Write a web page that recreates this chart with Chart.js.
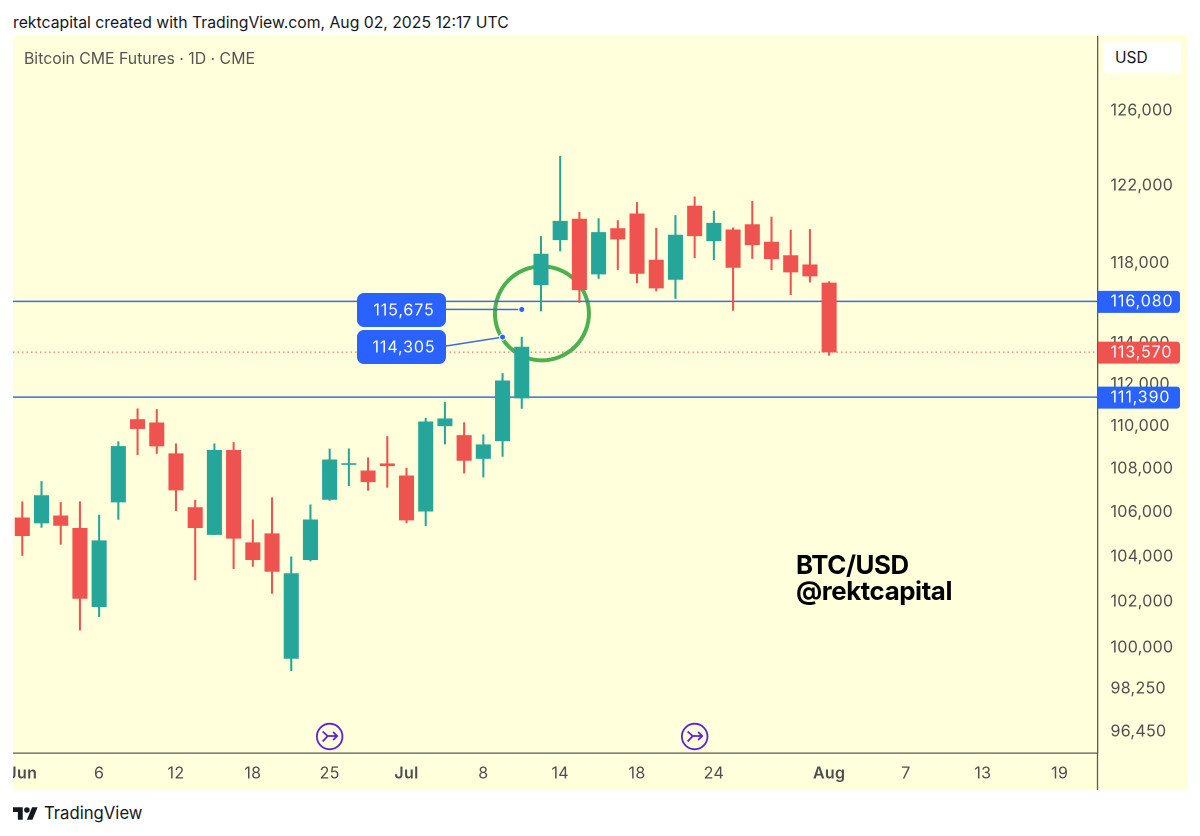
<!DOCTYPE html>
<html lang="en">
<head>
    <meta charset="UTF-8">
    <title>BTC/USD - Bitcoin CME Futures</title>
    <style>
        body {
            margin: 0;
            background: #fff;
            font-family: Inter, "Noto Sans", sans-serif;
            overflow: hidden;
        }
        #header { position: absolute; left: 13px; top: 14px; font-size: 15.75px; line-height: 18px; color: #131722; white-space: nowrap; }
        #panel { position: absolute; left: 13px; top: 36px; width: 1174px; height: 754px; background: #ffffdc; }
        #chart { position: absolute; left: 0; top: 0; width: 1174px; height: 754px; }
        #legend { position: absolute; left: 11px; top: 14px; font-size: 15.8px; line-height: 18px; color: #555; white-space: nowrap; }
        #usd { position: absolute; left: 1090px; top: 5px; width: 78px; height: 33px; background: #fff; border-radius: 5px; font-size: 15.5px; line-height: 33px; color: #131722; text-indent: 12px; }
        #watermark { position: absolute; left: 783px; top: 516px; font-size: 25.8px; line-height: 26px; font-weight: 700; letter-spacing: -0.4px; color: #000; white-space: nowrap; }
        #footer { position: absolute; left: 13px; top: 803px; height: 20px; display: flex; align-items: center; font-size: 16.7px; color: #131722; }
        #footer svg { margin-right: 6px; }
    </style>
    <script src="https://cdn.jsdelivr.net/npm/chart.js"></script>
</head>
<body>

<div id="header">rektcapital created with TradingView.com, Aug 02, 2025 12:17 UTC</div>

<div id="panel">
    <canvas id="chart" width="1174" height="754"></canvas>
    <div id="legend">Bitcoin CME Futures · 1D · CME</div>
    <div id="usd">USD</div>
    <div id="watermark">BTC/USD<br>@rektcapital</div>
</div>

<div id="footer">
    <svg width="25" height="13" viewBox="0 4 36 18"><path fill="#131722" d="M14 22H7V11H0V4h14v18zM28 22h-8l7.5-18h8L28 22z"/><circle fill="#131722" cx="20" cy="8" r="4"/></svg>
    TradingView
</div>

<script>
    // daily candles
    const opens = [105750, 105510, 105840, 105270, 101780, 106470, 110320, 110165, 108710, 106220,
        104990, 108865, 104625, 105030, 99540, 103860, 106590, 108205, 107910, 108240,
        107680, 106055, 110020, 109565, 108485, 109315, 111345, 116910, 119195, 120260,
        117450, 119775, 120535, 118160, 117180, 120940, 119145, 119710, 119980, 119080,
        118390, 117920, 117000];
    const closes = [104940, 106770, 105405, 102145, 104715, 109050, 109890, 109070, 107025, 105300,
        108865, 104820, 103860, 103340, 103240, 105660, 108425, 108250, 107405, 108145,
        105650, 110210, 110355, 108395, 109130, 112175, 113815, 118465, 120155, 116660,
        119570, 119230, 117480, 116745, 119435, 119400, 120050, 117785, 118940, 118225,
        117550, 117350, 113570];
    const highs = [106480, 107420, 106450, 106485, 105875, 109270, 110830, 110800, 109175, 106560,
        109175, 109235, 105660, 106670, 103990, 106345, 108930, 108940, 108520, 109520,
        108035, 110385, 111135, 110175, 109600, 112530, 114305, 119365, 123560, 120625,
        120290, 120190, 121125, 119795, 120450, 121420, 120680, 119810, 121190, 120370,
        119695, 119725, 117065];
    const lows = [104050, 105315, 104550, 100765, 101345, 105675, 108660, 108720, 106070, 102960,
        104990, 103460, 103560, 102365, 99015, 103800, 106545, 107220, 107005, 107145,
        105515, 105390, 109160, 107805, 107620, 108580, 110850, 115595, 118620, 116020,
        117230, 117680, 117000, 116595, 116220, 118275, 118175, 115625, 118240, 117665,
        116410, 117045, 113405];

    const xTickIndex = [0, 4, 8, 12, 16, 20, 24, 28, 32, 36, 42, 46, 50, 54];
    const xTickLabels = ['Jun', '6', '12', '18', '25', 'Jul', '8', '14', '18', '24', 'Aug', '7', '13', '19'];
    const yTicks = [126000, 122000, 118000, 114000, 112000, 110000, 108000, 106000, 104000, 102000, 100000, 98250, 96450];
    const yTickLabels = ['126,000', '122,000', '118,000', '114,000', '112,000', '110,000', '108,000', '106,000', '104,000', '102,000', '100,000', '98,250', '96,450'];

    const upperLevel = 116080;
    const lowerLevel = 111390;
    const lastPrice = 113570;
    const circleCenter = [27.05, 115480];
    const calloutIndex = [26, 25];
    const calloutPrices = [115675, 114305];
    const eventIndex = [16, 35];

    const xMin = -0.484, xMax = 55.97;
    const UP = '#26a69a', DOWN = '#ef5350', BLUE = '#2962ff', AXIS = '#5b5b5b', TEXT = '#4d4d4d';
    const FONT = 'Inter, "Noto Sans", sans-serif';

    const colors = opens.map((o, i) => closes[i] >= o ? UP : DOWN);
    const level = (y) => [{ x: xMin, y: y }, { x: xMax, y: y }];

    function roundBox(ctx, x, y, w, h, r, fill) {
        ctx.beginPath();
        ctx.roundRect(x, y, w, h, r);
        ctx.fillStyle = fill;
        ctx.fill();
    }

    // scale padding would push the plot in from the panel edges
    function noPadding(axis) {
        axis.paddingTop = axis.paddingBottom = axis.paddingLeft = axis.paddingRight = 0;
    }

    // things TradingView draws under the candles
    const underlay = {
        id: 'underlay',
        beforeDraw(chart) {
            chart.ctx.letterSpacing = '0.3px';
        },
        beforeDatasetsDraw(chart) {
            const { ctx, scales: { x, y } } = chart;
            ctx.save();
            ctx.beginPath();
            ctx.arc(x.getPixelForValue(circleCenter[0]), y.getPixelForValue(circleCenter[1]), 47, 0, Math.PI * 2);
            ctx.strokeStyle = '#4caf50';
            ctx.lineWidth = 4;
            ctx.stroke();
            ctx.restore();
        }
    };

    // callouts, event icons and the price tags on the axis
    const overlay = {
        id: 'overlay',
        afterDraw(chart) {
            const { ctx, chartArea, scales: { x, y } } = chart;
            ctx.save();
            ctx.letterSpacing = '0.9px';

            // axis line carries on through the time scale
            ctx.strokeStyle = AXIS;
            ctx.lineWidth = 1.3;
            ctx.beginPath();
            ctx.moveTo(chartArea.right, chartArea.bottom);
            ctx.lineTo(chartArea.right, chart.height);
            ctx.stroke();

            // callouts
            const boxTop = [257, 294];
            const leaderY = [273.4, 310.5];
            calloutPrices.forEach((p, i) => {
                const px = x.getPixelForValue(calloutIndex[i]);
                const py = y.getPixelForValue(p);
                ctx.strokeStyle = '#3f6be0';
                ctx.lineWidth = 1.5;
                ctx.beginPath();
                ctx.moveTo(430, leaderY[i]);
                ctx.lineTo(px, py);
                ctx.stroke();
                roundBox(ctx, 344, boxTop[i], 89, 34, 7, BLUE);
                ctx.fillStyle = '#fff';
                ctx.font = '16px ' + FONT;
                ctx.textAlign = 'center';
                ctx.textBaseline = 'middle';
                ctx.fillText(p.toLocaleString('en-US'), 391, boxTop[i] + 17.5);
                ctx.beginPath();
                ctx.arc(px, py, 3, 0, Math.PI * 2);
                ctx.fillStyle = BLUE;
                ctx.strokeStyle = '#fff';
                ctx.lineWidth = 1;
                ctx.fill();
                ctx.stroke();
            });

            // event icons
            eventIndex.forEach((idx) => {
                const cx = x.getPixelForValue(idx), cy = 700.5;
                ctx.strokeStyle = '#5a22e0';
                ctx.lineWidth = 1.8;
                ctx.beginPath();
                ctx.arc(cx, cy, 12.8, 0, Math.PI * 2);
                ctx.stroke();
                ctx.beginPath();
                ctx.moveTo(cx - 7, cy - 5);
                ctx.lineTo(cx - 2, cy - 0.5);
                ctx.lineTo(cx + 7.5, cy - 0.5);
                ctx.moveTo(cx - 7, cy + 5);
                ctx.lineTo(cx - 2, cy - 0.5);
                ctx.moveTo(cx + 3.5, cy - 4.5);
                ctx.lineTo(cx + 7.5, cy - 0.5);
                ctx.lineTo(cx + 3.5, cy + 3.5);
                ctx.stroke();
            });

            // price tags
            [[upperLevel, BLUE], [lastPrice, DOWN], [lowerLevel, BLUE]].forEach(([p, c]) => {
                const py = y.getPixelForValue(p);
                ctx.beginPath();
                ctx.roundRect(chartArea.right + 0.5, py - 10.5, 82, 22, [0, 3, 3, 0]);
                ctx.fillStyle = c;
                ctx.fill();
                ctx.fillStyle = '#fff';
                ctx.font = '16px ' + FONT;
                ctx.textAlign = 'left';
                ctx.textBaseline = 'middle';
                ctx.fillText(p.toLocaleString('en-US'), chartArea.right + 13, py + 0.5);
            });
            ctx.restore();
        }
    };

    new Chart(document.getElementById('chart').getContext('2d'), {
        data: {
            datasets: [
                { type: 'line', data: level(upperLevel), borderColor: '#3f6be0', borderWidth: 1.5, pointRadius: 0, order: 5 },
                { type: 'line', data: level(lowerLevel), borderColor: '#3f6be0', borderWidth: 1.5, pointRadius: 0, order: 5 },
                { type: 'line', data: level(lastPrice), borderColor: DOWN, borderWidth: 1, borderDash: [1.5, 3], pointRadius: 0, order: 4 },
                {
                    type: 'bar',
                    data: highs.map((h, i) => ({ x: i, y: [lows[i], h] })),
                    backgroundColor: colors,
                    barThickness: 1.4,
                    grouped: false,
                    order: 2
                },
                {
                    type: 'bar',
                    data: opens.map((o, i) => ({ x: i, y: [o, closes[i]] })),
                    backgroundColor: colors,
                    barThickness: 14.4,
                    grouped: false,
                    order: 1
                }
            ]
        },
        options: {
            responsive: false,
            animation: false,
            devicePixelRatio: 2,
            layout: { autoPadding: false, padding: 0 },
            plugins: { legend: { display: false }, tooltip: { enabled: false } },
            scales: {
                x: {
                    type: 'linear',
                    offset: false,
                    min: xMin,
                    max: xMax,
                    grid: { display: false, drawTicks: false },
                    border: { color: AXIS, width: 1.3 },
                    afterBuildTicks: (axis) => { axis.ticks = xTickIndex.map((v) => ({ value: v })); },
                    afterFit: (axis) => { axis.height = 37; noPadding(axis); },
                    ticks: {
                        autoSkip: false,
                        maxRotation: 0,
                        padding: 11,
                        color: TEXT,
                        font: (c) => ({ family: FONT, size: 16, weight: /\d/.test(xTickLabels[c.index] || '') ? '400' : '600' }),
                        callback: (v, i) => xTickLabels[i]
                    }
                },
                y: {
                    type: 'logarithmic',
                    position: 'right',
                    min: 95568,
                    max: 130125,
                    grid: { display: false, drawTicks: false },
                    border: { color: AXIS, width: 1.3 },
                    afterBuildTicks: (axis) => { axis.ticks = yTicks.map((v) => ({ value: v })); },
                    afterFit: (axis) => { axis.width = 89.5; noPadding(axis); },
                    ticks: {
                        autoSkip: false,
                        padding: 13,
                        color: TEXT,
                        font: { family: FONT, size: 16 },
                        callback: (v, i) => yTickLabels[i]
                    }
                }
            }
        },
        plugins: [underlay, overlay]
    });
</script>

</body>
</html>
